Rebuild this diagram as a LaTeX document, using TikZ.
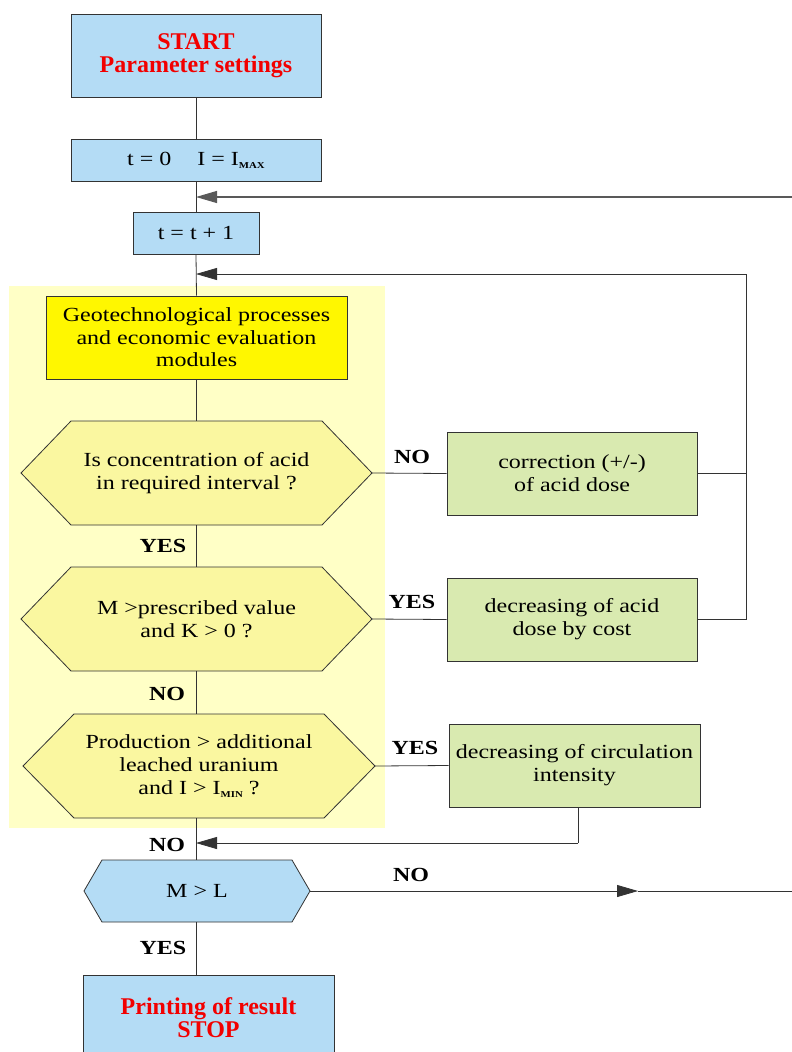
\documentclass[tikz,border=0pt]{standalone}
\usepackage{fontspec}
\setmainfont{Liberation Serif}[FakeStretch=1.2]
\newfontfamily\titlefont{Liberation Serif}
\usetikzlibrary{arrows.meta,calc}
\definecolor{lblue}{HTML}{B4DCF5}
\definecolor{bgyel}{HTML}{FFFFC6}
\definecolor{hexyel}{HTML}{FAF7A0}
\definecolor{geoyel}{HTML}{FFF700}
\definecolor{lgreen}{HTML}{D9EAB0}
\definecolor{lincol}{HTML}{333333}
\definecolor{titred}{HTML}{F20000}
\newcommand\hexa[6]{\filldraw[#6] ({#1-#3},#2) -- ++(#5,#4) -- ++({2*#3-2*#5},0) -- ++(#5,-#4) -- ++(-#5,-#4) -- ++({-2*#3+2*#5},0) -- cycle;}
\newcommand\sub[1]{\raisebox{-3pt}{\fontsize{9}{9}\selectfont\bfseries #1}}
\tikzset{
  box/.style={draw=lincol, line width=0.9pt, inner sep=0pt, align=center, font=\fontsize{20}{23}\selectfont},
  hexline/.style={draw=lincol, line width=0.8pt},
  hextext/.style={inner sep=0pt, align=center, font=\fontsize{20}{23}\selectfont},
  title/.style={text=titred, font=\titlefont\bfseries\fontsize{24}{23}\selectfont},
  lab/.style={font=\bfseries\fontsize{20}{20}\selectfont, inner sep=0pt},
  conn/.style={draw=lincol, line width=0.8pt},
  arr/.style={conn, -{Triangle[length=21pt,width=12pt]}},
}
\begin{document}
\begin{tikzpicture}[x=1pt,y=-1pt]
\useasboundingbox (0,0) rectangle (792,1052);
\fill[white] (0,0) rectangle (792,1052);
% background panel
\fill[bgyel] (9,286) rectangle (385,828);
% boxes
\node[box, fill=lblue, minimum width=250, minimum height=83, title] (start) at (196,55.5) {START\\Parameter settings};
\node[box, fill=lblue, minimum width=250, minimum height=42] (t0) at (196,160) {t = 0\quad\ I = I\sub{MAX}};
\node[box, fill=lblue, minimum width=126, minimum height=42] (tt1) at (196,233) {t = t + 1};
\node[box, fill=geoyel, minimum width=301, minimum height=83, font=\fontsize{20}{22.5}\selectfont] (geo) at (196.5,337.5) {Geotechnological processes\\and economic evaluation\\modules};
% hexagons
\hexa{196.5}{473}{175.5}{52}{50}{hexline, fill=hexyel}
\node[hextext, minimum width=351, minimum height=104] (h1) at (196.5,473) {Is concentration of acid\\in required interval ?};
\hexa{196.5}{619}{175.5}{52}{50}{hexline, fill=hexyel}
\node[hextext, minimum width=351, minimum height=104] (h2) at (196.5,619) {M >prescribed value\\and K > 0 ?};
\hexa{199}{766}{176}{52}{51}{hexline, fill=hexyel}
\node[hextext, minimum width=352, minimum height=104] (h3) at (199,766) {Production > additional\\leached uranium\\and I > I\sub{MIN} ?};
\hexa{197}{891}{113}{31}{18}{hexline, fill=lblue}
\node[hextext, minimum width=226, minimum height=62] (ml) at (197,891) {M > L};
% side boxes
\node[box, fill=lgreen, minimum width=250, minimum height=83] (corr) at (572,473.5) {correction (+/-)\\of acid dose};
\node[box, fill=lgreen, minimum width=250, minimum height=83] (dec1) at (572,619.5) {decreasing of acid\\dose by cost};
\node[box, fill=lgreen, minimum width=251, minimum height=83] (dec2) at (574.5,765.5) {decreasing of circulation\\intensity};
\node[box, fill=lblue, minimum width=251, minimum height=85, title] (print) at (208.5,1017.5) {Printing of result\\STOP};
% coordinates
\coordinate (j1) at (196,197);
\coordinate (r1) at (792,197);
\coordinate (j2) at (196,274);
\coordinate (k1) at (746,274);
\coordinate (k2) at (746,473.5);
\coordinate (k3) at (746,619.5);
\coordinate (d2b) at (578,807);
\coordinate (d2c) at (578,843);
\coordinate (j3) at (196,843);
\coordinate (m1) at (638,891);
\coordinate (r2) at (792,891);
% connectors
\draw[conn] (start.south) -- (t0.north);
\draw[conn] (t0.south) -- (tt1.north);
\draw[arr, draw=black!65, line width=1.1pt] (r1) -- (j1);
\draw[conn] (tt1.south) -- (geo.north);
\draw[arr] (k1) -- (j2);
\draw[conn] (geo.south) -- (h1.north);
\draw[conn] (h1.east) -- (corr.west);
\draw[conn] (corr.east) -- (k2);
\draw[conn] (k1) -- (k3);
\draw[conn] (dec1.east) -- (k3);
\draw[conn] (h1.south) -- (h2.north);
\draw[conn] (h2.east) -- (dec1.west);
\draw[conn] (h2.south) -- (h2.south |- h3.north);
\draw[conn] (h3.east) -- (dec2.west);
\draw[conn] (d2b) -- (d2c);
\draw[arr] (d2c) -- (j3);
\draw[conn] (h2.south |- h3.south) -- (h2.south |- ml.north);
\draw[arr] (ml.east) -- (m1);
\draw[conn] (m1) -- (r2);
\draw[conn] (h2.south |- ml.south) -- (h2.south |- print.north);
% labels
\node[lab] (l1) at (412,457) {NO};
\node[lab] (l2) at (163,546) {YES};
\node[lab] (l3) at (412,602) {YES};
\node[lab] (l4) at (167,694) {NO};
\node[lab] (l5) at (415,748) {YES};
\node[lab] (l6) at (167,845) {NO};
\node[lab] (l7) at (411,875) {NO};
\node[lab] (l8) at (163,948) {YES};
\end{tikzpicture}
\end{document}
